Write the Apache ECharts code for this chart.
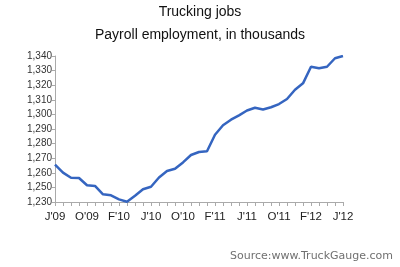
<!DOCTYPE html>
<html>
<head>
<meta charset="utf-8">
<script src="https://cdn.jsdelivr.net/npm/echarts@6/dist/echarts.min.js"></script>
<style>
html,body{margin:0;padding:0;background:#fff;}
#chart{width:400px;height:267px;}
</style>
</head>
<body>
<div id="chart"></div>
<script>
// Months Jun 2009 .. Jun 2012 (labels shown every 4th month)
var months = ["J'09","J'09","A'09","S'09","O'09","N'09","D'09",
  "J'10","F'10","M'10","A'10","M'10","J'10","J'10","A'10","S'10","O'10","N'10","D'10",
  "J'11","F'11","M'11","A'11","M'11","J'11","J'11","A'11","S'11","O'11","N'11","D'11",
  "J'12","F'12","M'12","A'12","M'12","J'12"];
// Payroll employment, thousands
var jobs = [1258.1,1252.1,1248.3,1248.1,1242.6,1242.1,1235.8,
  1235.0,1232.0,1230.2,1234.7,1239.6,1241.5,1248.5,1253.4,1255.0,1259.8,1265.4,1267.7,
  1268.2,1280.7,1287.8,1292.0,1295.3,1298.9,1301.0,1299.7,1301.4,1303.8,1307.6,1314.6,
  1319.4,1331.9,1330.7,1331.9,1338.3,1340.0];
// Y tick labels as printed on the reference (evenly spaced, bottom to top)
var yTickLabels = ['1,230','1,250','1,260','1,270','1,280','1,290','1,300','1,310','1,320','1,330','1,340'];
var yMin = 1230, yMax = 1340;

var chart = echarts.init(document.getElementById('chart'), null, {renderer:'canvas'});
chart.setOption({
  animation:false,
  backgroundColor:'#fff',
  title:[
    {text:'Trucking jobs', left:'center', top:5, padding:0,
     textStyle:{fontFamily:'Liberation Sans', fontSize:14, fontWeight:'normal', color:'#111'}},
    {text:'Payroll employment, in thousands', left:'center', top:28, padding:0,
     textStyle:{fontFamily:'Liberation Sans', fontSize:14, fontWeight:'normal', color:'#111'}},
    {text:'Source:www.TruckGauge.com', right:7, top:251, padding:0,
     textStyle:{fontFamily:'DejaVu Sans', fontSize:11, fontWeight:'normal', color:'#707070'}}
  ],
  grid:{left:55, right:57, top:56, bottom:65},
  xAxis:{
    type:'category', data:months, boundaryGap:false,
    axisLine:{lineStyle:{color:'#aaa', width:1}},
    axisTick:{show:true, interval:0, length:4, lineStyle:{color:'#aaa'}},
    axisLabel:{interval:3, margin:9, fontFamily:'Liberation Sans', fontSize:11.5, color:'#222'},
    splitLine:{show:false}
  },
  yAxis:[
    {type:'value', min:yMin, max:yMax, show:false, splitLine:{show:false}},
    {type:'category', data:yTickLabels, boundaryGap:false, position:'left',
     axisLine:{show:true, lineStyle:{color:'#aaa', width:1}},
     axisTick:{show:true, length:3, lineStyle:{color:'#aaa'}},
     axisLabel:{margin:3, fontFamily:'Liberation Sans', fontSize:10, color:'#333'},
     splitLine:{show:false}}
  ],
  series:[{
    type:'line', data:jobs, yAxisIndex:0, showSymbol:false, symbol:'none',
    lineStyle:{color:'#3565c0', width:2.5}, itemStyle:{color:'#3565c0'}
  }]
});
</script>
</body>
</html>
